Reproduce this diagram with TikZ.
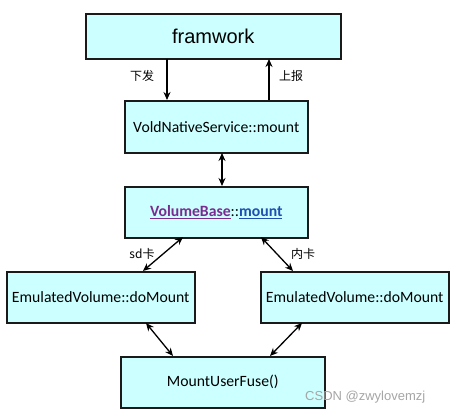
\documentclass[tikz,border=0pt]{standalone}
\usepackage{fontspec}
\setmainfont{Carlito}
\newfontfamily\arialf{Liberation Sans}
\newfontfamily\cjkf{Noto Sans CJK SC}
\usetikzlibrary{arrows.meta}
\definecolor{boxfill}{HTML}{CCFFFF}
\definecolor{boxline}{HTML}{1A1A1A}
\definecolor{linkpurple}{HTML}{7B2B8F}
\definecolor{linkblue}{HTML}{1F4FB0}
\tikzset{
  fbox/.style={draw=boxline, fill=boxfill, line width=1.5pt, inner sep=0pt, anchor=north west},
  conn/.style={line width=1.3pt, black, -{Stealth[length=8pt,width=7pt]}},
  biconn/.style={line width=1.3pt, black, {Stealth[length=8pt,width=7pt]}-{Stealth[length=8pt,width=7pt]}},
  lbl/.style={font=\cjkf\fontsize{12}{14}\selectfont, inner sep=0pt},
  btxt/.style={font=\fontsize{15.7}{18}\selectfont}
}
\begin{document}
\begin{tikzpicture}[x=1pt,y=-1pt]
\useasboundingbox[fill=white] (0,0) rectangle (457,413);
\node[fbox, minimum width=255pt, minimum height=45pt] (fw) at (85,13) {};
\node[font=\arialf\fontsize{20}{24}\selectfont] at (fw.center) {framwork};
\node[fbox, minimum width=183pt, minimum height=52pt] (vn) at (124,100) {};
\node[btxt] at (vn.center) {VoldNativeService::mount};
\node[fbox, minimum width=183pt, minimum height=51pt] (vb) at (124,186) {};
\node[btxt] at (vb.center) {\textcolor{linkpurple}{\underline{\textbf{VolumeBase}}}::\textcolor{linkblue}{\underline{\textbf{mount}}}};
\node[fbox, minimum width=188pt, minimum height=51pt] (el) at (6,271) {};
\node[btxt] at (el.center) {EmulatedVolume::doMount};
\node[fbox, minimum width=188pt, minimum height=51pt] (er) at (260,271) {};
\node[btxt] at (er.center) {EmulatedVolume::doMount};
\node[fbox, minimum width=204pt, minimum height=51pt] (mf) at (120,356) {};
\node[btxt] at (mf.center) {MountUserFuse()};
% connectors
\coordinate (a1) at (167,59);
\coordinate (a2) at (167,100);
\coordinate (b1) at (269,100);
\coordinate (b2) at (269,59);
\draw[conn] (a1) -- (a2);
\draw[conn] (b1) -- (b2);
\node[lbl] (xf) at (142,76) {下发};
\node[lbl] (sb) at (291,76) {上报};
\coordinate (c1) at (222,153);
\coordinate (c2) at (222,186);
\draw[biconn] (c1) -- (c2);
\coordinate (d1) at (143,271);
\coordinate (d2) at (183,237);
\draw[biconn] (d1) -- (d2);
\node[lbl] (sd) at (142,254) {sd卡};
\coordinate (e1) at (261,237);
\coordinate (e2) at (293,271);
\draw[biconn] (e1) -- (e2);
\node[lbl] (nk) at (303,254) {内卡};
\coordinate (f1) at (146,323);
\coordinate (f2) at (173,356);
\draw[biconn] (f1) -- (f2);
\coordinate (g1) at (302,323);
\coordinate (g2) at (270,356);
\draw[biconn] (g1) -- (g2);
\node[font=\arialf\fontsize{13}{15}\selectfont, text=gray!70, anchor=west, inner sep=0pt] (wm) at (305,397) {CSDN @zwylovemzj};
\end{tikzpicture}
\end{document}
